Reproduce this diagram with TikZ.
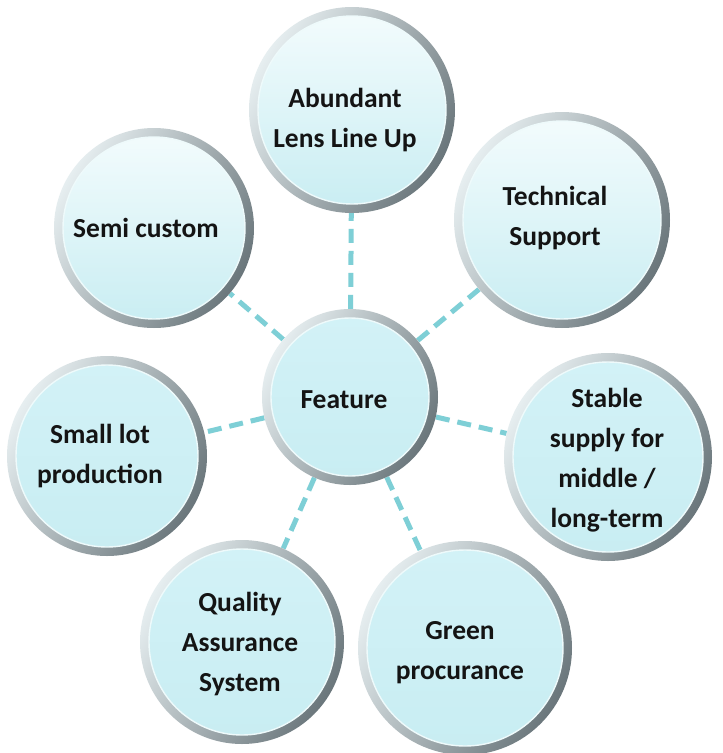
\documentclass[tikz,border=0pt]{standalone}
\usepackage{fontspec}
\setmainfont{Carlito}
\usetikzlibrary{shadings}
\pgfdeclarelayer{bg}
\pgfsetlayers{bg,main}
\definecolor{dashc}{HTML}{7ECFD6}
\definecolor{ringL}{HTML}{E6EEF0}
\definecolor{ringM}{HTML}{CCD6D9}
\definecolor{ringD}{HTML}{6A767B}
\definecolor{inBot}{HTML}{C8EDF2}
\definecolor{inCy}{HTML}{D3F2F7}
\definecolor{inWh}{HTML}{F4FCFD}
\definecolor{txt}{HTML}{141414}
\tikzset{
  btn/.style 2 args={circle, inner sep=0pt, minimum size={2*#1pt},
    preaction={shade, shading=axis, top color=ringL, middle color=ringM, bottom color=ringD, shading angle=60},
    path picture={
      \shade[top color=#2, bottom color=inBot]
        (path picture bounding box.center) circle[radius={#1pt-9pt}];
      \draw[white!70!inBot, line width=1.4pt]
        (path picture bounding box.center) circle[radius={#1pt-9pt}];
    }},
  lbl/.style={align=center, text=txt, font=\bfseries\fontsize{27.5}{40}\selectfont},
  conn/.style={draw=dashc, line width=5pt, dash pattern=on 14pt off 8pt}
}
\begin{document}
\begin{tikzpicture}[x=1pt,y=-1pt]
\useasboundingbox (0,0) rectangle (723,753);
\node[btn={88}{inCy}, label={[lbl, xshift=-6pt, yshift=-3pt]center:Feature}] (feat) at (350,397) {};
\node[btn={103}{inWh}, label={[lbl, xshift=-7pt, yshift=-10pt]center:{Abundant\\Lens Line Up}}] (abund) at (352,110) {};
\node[btn={108}{inWh}, label={[lbl, xshift=-7pt, yshift=2pt]center:{Technical\\Support}}] (tech) at (562,220) {};
\node[btn={104}{inCy}, label={[lbl, xshift=-1pt, yshift=-3pt]center:{Stable\\supply for\\middle /\\long-term}}] (stable) at (608,457) {};
\node[btn={107}{inCy}, label={[lbl, xshift=-5pt, yshift=-5pt]center:{Green\\procurance}}] (green) at (465,648) {};
\node[btn={102}{inCy}, label={[lbl, xshift=-2pt, yshift=-2pt]center:{Quality\\Assurance\\System}}] (qual) at (242,642) {};
\node[btn={100}{inCy}, label={[lbl, xshift=-7pt, yshift=0pt]center:{Small lot\\production}}] (small) at (107,456) {};
\node[btn={100}{inWh}, label={[lbl, xshift=-8pt, yshift=0pt]center:{Semi custom}}] (semi) at (154,228) {};
\begin{pgfonlayer}{bg}
\fill[white] (0,0) rectangle (723,753);
\draw[conn] (feat) -- (abund);
\draw[conn] (feat) -- (tech);
\draw[conn] (feat) -- (stable);
\draw[conn] (feat) -- (green);
\draw[conn] (feat) -- (qual);
\draw[conn] (feat) -- (small);
\draw[conn] (feat) -- (semi);
\end{pgfonlayer}
\end{tikzpicture}
\end{document}
